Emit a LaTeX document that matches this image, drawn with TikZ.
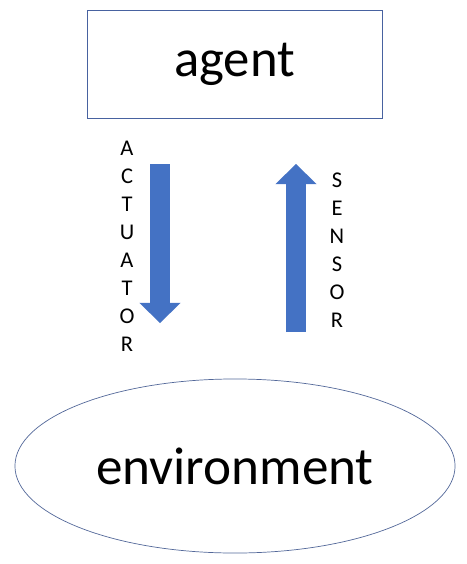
\documentclass[tikz,border=0pt]{standalone}
\usepackage{fontspec}
\setmainfont{Carlito}
\usetikzlibrary{arrows.meta,shapes.geometric}
\definecolor{officeblue}{RGB}{68,114,196}
\definecolor{edgeblue}{RGB}{72,98,160}

\begin{document}
\begin{tikzpicture}[x=0.025cm, y=-0.025cm,
  box/.style={draw=edgeblue, line width=0.5pt, minimum width=7.375cm, minimum height=2.7cm, inner sep=0pt, font=\fontsize{37.5}{40}\selectfont},
  world/.style={draw=edgeblue!80!gray, ellipse, line width=0.5pt, minimum width=11cm, minimum height=4.35cm, inner sep=0pt, font=\fontsize{37.8}{40}\selectfont},
  letters/.style={anchor=north, align=center, inner sep=0pt, font=\fontsize{16}{19.9}\selectfont},
  fatarrow/.style={officeblue, line width=0.5cm, -{Triangle[width=1.025cm, length=0.5cm, line width=0pt]}}
]
\useasboundingbox (0,0) rectangle (466,564);

\node[box] (agent) at (234.5, 64) {agent};
\node[world] (env) at (235, 466) {environment};

% actuator / sensor arrows
\coordinate (actTop) at (160, 164);
\coordinate (actTip) at (160, 323);
\coordinate (senBase) at (296, 332);
\coordinate (senTip) at (296, 164);
\draw[fatarrow] (actTop) -- (actTip);
\draw[fatarrow] (senBase) -- (senTip);

\node[letters] (actuator) at (127, 141) {A\\C\\T\\U\\A\\T\\O\\R};
\node[letters] (sensor) at (337, 173) {S\\E\\N\\S\\O\\R};

\end{tikzpicture}
\end{document}
